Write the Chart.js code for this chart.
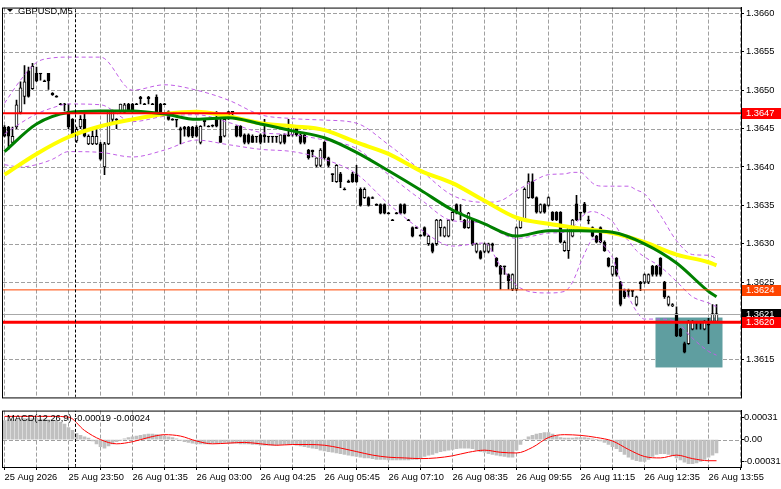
<!DOCTYPE html>
<html>
<head>
<meta charset="utf-8">
<script src="https://cdn.jsdelivr.net/npm/chart.js@4.4.1/dist/chart.umd.min.js"></script>
<style>
  html, body { margin: 0; padding: 0; background: #fff; }
  #wrap { position: relative; width: 781px; height: 489px; overflow: hidden; }
  #main { position: absolute; left: 0; top: 0; }
  #macd { position: absolute; left: 0; top: 405px; }
</style>
</head>
<body>
<div id="wrap">
  <canvas id="main" width="781" height="405"></canvas>
  <canvas id="macd" width="781" height="84"></canvas>
</div>
<script>
// ---- data ----
const symbol = 'GBPUSD,M5';
const macdTitle = 'MACD(12,26,9) -0.00019 -0.00024';
const timeLabels = ['25 Aug 2026', '25 Aug 23:50', '26 Aug 01:35', '26 Aug 03:00', '26 Aug 04:25', '26 Aug 05:45',
    '26 Aug 07:10', '26 Aug 08:35', '26 Aug 09:55', '26 Aug 11:15', '26 Aug 12:35', '26 Aug 13:55'];
const priceTicks = [1.3615, 1.3620, 1.3625, 1.3630, 1.3635, 1.3640, 1.3645, 1.3650, 1.3655, 1.3660];
const macdTicks = [-0.00031, 0, 0.00031];

const opens = [
    1.36452, 1.36452, 1.36432, 1.36452, 1.36471, 1.36492, 1.36525, 1.36502, 1.36522, 1.36522,
    1.36512, 1.36522, 1.36496, 1.36492, 1.36482, 1.36482, 1.36472, 1.36462, 1.36434, 1.36452,
    1.36462, 1.36430, 1.36430, 1.36430, 1.36430, 1.36400, 1.36430, 1.36462, 1.36462, 1.36472,
    1.36471, 1.36482, 1.36482, 1.36482, 1.36491, 1.36482, 1.36491, 1.36482, 1.36491, 1.36482,
    1.36482, 1.36472, 1.36462, 1.36462, 1.36450, 1.36452, 1.36452, 1.36452, 1.36452, 1.36432,
    1.36462, 1.36453, 1.36454, 1.36463, 1.36440, 1.36440, 1.36472, 1.36472, 1.36453, 1.36453,
    1.36442, 1.36442, 1.36440, 1.36440, 1.36442, 1.36442, 1.36440, 1.36440, 1.36440, 1.36432,
    1.36442, 1.36442, 1.36442, 1.36453, 1.36442, 1.36442, 1.36422, 1.36422, 1.36402, 1.36402,
    1.36432, 1.36412, 1.36391, 1.36381, 1.36391, 1.36371, 1.36381, 1.36391, 1.36391, 1.36371,
    1.36360, 1.36360, 1.36360, 1.36351, 1.36351, 1.36351, 1.36340, 1.36331, 1.36340, 1.36351,
    1.36351, 1.36331, 1.36321, 1.36321, 1.36311, 1.36321, 1.36300, 1.36300, 1.36300, 1.36321,
    1.36310, 1.36310, 1.36331, 1.36351, 1.36340, 1.36331, 1.36321, 1.36331, 1.36290, 1.36290,
    1.36290, 1.36290, 1.36300, 1.36281, 1.36271, 1.36271, 1.36260, 1.36241, 1.36241, 1.36321,
    1.36331, 1.36360, 1.36381, 1.36360, 1.36341, 1.36351, 1.36350, 1.36341, 1.36341, 1.36341,
    1.36291, 1.36291, 1.36310, 1.36352, 1.36341, 1.36352, 1.36331, 1.36321, 1.36310, 1.36321,
    1.36302, 1.36281, 1.36260, 1.36281, 1.36250, 1.36239, 1.36239, 1.36239, 1.36221, 1.36250,
    1.36250, 1.36250, 1.36271, 1.36271, 1.36281, 1.36250, 1.36221, 1.36219, 1.36209, 1.36189,
    1.36170, 1.36170, 1.36189, 1.36199, 1.36199, 1.36189, 1.36195, 1.36199, 1.36199
];
const highs = [
    1.36454, 1.36453, 1.36452, 1.36487, 1.36511, 1.36532, 1.36530, 1.36535, 1.36530, 1.36522,
    1.36513, 1.36522, 1.36497, 1.36493, 1.36483, 1.36483, 1.36482, 1.36463, 1.36452, 1.36467,
    1.36472, 1.36442, 1.36447, 1.36452, 1.36432, 1.36432, 1.36473, 1.36474, 1.36463, 1.36482,
    1.36483, 1.36483, 1.36483, 1.36483, 1.36492, 1.36483, 1.36492, 1.36483, 1.36494, 1.36483,
    1.36483, 1.36473, 1.36463, 1.36462, 1.36452, 1.36453, 1.36453, 1.36453, 1.36454, 1.36454,
    1.36463, 1.36454, 1.36455, 1.36472, 1.36463, 1.36463, 1.36472, 1.36472, 1.36454, 1.36454,
    1.36443, 1.36443, 1.36442, 1.36440, 1.36443, 1.36462, 1.36440, 1.36440, 1.36440, 1.36442,
    1.36443, 1.36462, 1.36454, 1.36454, 1.36443, 1.36443, 1.36423, 1.36422, 1.36412, 1.36424,
    1.36433, 1.36413, 1.36391, 1.36403, 1.36393, 1.36373, 1.36383, 1.36393, 1.36402, 1.36373,
    1.36373, 1.36361, 1.36361, 1.36352, 1.36352, 1.36352, 1.36341, 1.36332, 1.36341, 1.36352,
    1.36352, 1.36332, 1.36322, 1.36322, 1.36312, 1.36322, 1.36311, 1.36301, 1.36332, 1.36332,
    1.36322, 1.36332, 1.36342, 1.36352, 1.36351, 1.36332, 1.36341, 1.36332, 1.36301, 1.36291,
    1.36301, 1.36301, 1.36301, 1.36282, 1.36272, 1.36271, 1.36261, 1.36261, 1.36322, 1.36332,
    1.36373, 1.36391, 1.36391, 1.36361, 1.36352, 1.36352, 1.36361, 1.36342, 1.36342, 1.36342,
    1.36304, 1.36322, 1.36332, 1.36363, 1.36341, 1.36354, 1.36336, 1.36322, 1.36311, 1.36322,
    1.36304, 1.36282, 1.36271, 1.36282, 1.36251, 1.36241, 1.36241, 1.36239, 1.36232, 1.36251,
    1.36261, 1.36261, 1.36272, 1.36272, 1.36282, 1.36251, 1.36232, 1.36222, 1.36218, 1.36190,
    1.36172, 1.36200, 1.36200, 1.36199, 1.36199, 1.36200, 1.36203, 1.36221, 1.36221
];
const lows = [
    1.36439, 1.36423, 1.36430, 1.36450, 1.36469, 1.36482, 1.36491, 1.36501, 1.36511, 1.36513,
    1.36511, 1.36501, 1.36493, 1.36491, 1.36481, 1.36473, 1.36450, 1.36439, 1.36432, 1.36450,
    1.36439, 1.36429, 1.36429, 1.36429, 1.36409, 1.36390, 1.36429, 1.36459, 1.36450, 1.36471,
    1.36470, 1.36472, 1.36471, 1.36481, 1.36482, 1.36481, 1.36482, 1.36481, 1.36471, 1.36471,
    1.36481, 1.36461, 1.36461, 1.36452, 1.36430, 1.36440, 1.36439, 1.36438, 1.36439, 1.36430,
    1.36453, 1.36452, 1.36452, 1.36452, 1.36432, 1.36439, 1.36462, 1.36463, 1.36439, 1.36439,
    1.36430, 1.36430, 1.36432, 1.36432, 1.36430, 1.36432, 1.36432, 1.36432, 1.36432, 1.36430,
    1.36430, 1.36440, 1.36440, 1.36440, 1.36430, 1.36430, 1.36410, 1.36413, 1.36400, 1.36400,
    1.36410, 1.36400, 1.36381, 1.36380, 1.36373, 1.36370, 1.36380, 1.36380, 1.36380, 1.36349,
    1.36359, 1.36349, 1.36359, 1.36350, 1.36339, 1.36339, 1.36339, 1.36330, 1.36339, 1.36339,
    1.36339, 1.36330, 1.36309, 1.36320, 1.36310, 1.36310, 1.36298, 1.36288, 1.36298, 1.36310,
    1.36309, 1.36309, 1.36330, 1.36339, 1.36331, 1.36320, 1.36320, 1.36298, 1.36288, 1.36280,
    1.36288, 1.36288, 1.36290, 1.36270, 1.36241, 1.36260, 1.36241, 1.36239, 1.36239, 1.36320,
    1.36330, 1.36359, 1.36359, 1.36340, 1.36340, 1.36340, 1.36349, 1.36330, 1.36330, 1.36301,
    1.36290, 1.36281, 1.36309, 1.36330, 1.36331, 1.36340, 1.36326, 1.36309, 1.36301, 1.36301,
    1.36290, 1.36270, 1.36258, 1.36258, 1.36219, 1.36229, 1.36231, 1.36231, 1.36219, 1.36239,
    1.36248, 1.36248, 1.36258, 1.36258, 1.36258, 1.36229, 1.36219, 1.36218, 1.36179, 1.36179,
    1.36158, 1.36169, 1.36188, 1.36189, 1.36189, 1.36188, 1.36170, 1.36198, 1.36198
];
const closes = [
    1.36440, 1.36440, 1.36440, 1.36481, 1.36503, 1.36511, 1.36492, 1.36531, 1.36512, 1.36521,
    1.36511, 1.36512, 1.36494, 1.36491, 1.36481, 1.36481, 1.36452, 1.36440, 1.36449, 1.36462,
    1.36440, 1.36440, 1.36440, 1.36440, 1.36410, 1.36430, 1.36472, 1.36472, 1.36461, 1.36482,
    1.36481, 1.36472, 1.36472, 1.36481, 1.36489, 1.36481, 1.36489, 1.36481, 1.36472, 1.36472,
    1.36481, 1.36462, 1.36461, 1.36461, 1.36448, 1.36450, 1.36440, 1.36440, 1.36440, 1.36453,
    1.36459, 1.36452, 1.36453, 1.36453, 1.36432, 1.36462, 1.36463, 1.36471, 1.36440, 1.36440,
    1.36432, 1.36432, 1.36432, 1.36439, 1.36432, 1.36439, 1.36439, 1.36439, 1.36439, 1.36442,
    1.36432, 1.36440, 1.36453, 1.36442, 1.36432, 1.36432, 1.36412, 1.36420, 1.36412, 1.36422,
    1.36412, 1.36402, 1.36390, 1.36402, 1.36381, 1.36370, 1.36380, 1.36381, 1.36381, 1.36350,
    1.36371, 1.36350, 1.36359, 1.36350, 1.36340, 1.36340, 1.36339, 1.36330, 1.36339, 1.36340,
    1.36340, 1.36330, 1.36310, 1.36320, 1.36310, 1.36311, 1.36310, 1.36290, 1.36331, 1.36331,
    1.36321, 1.36331, 1.36341, 1.36340, 1.36341, 1.36321, 1.36340, 1.36300, 1.36300, 1.36281,
    1.36300, 1.36300, 1.36298, 1.36271, 1.36260, 1.36270, 1.36252, 1.36260, 1.36321, 1.36331,
    1.36371, 1.36381, 1.36360, 1.36341, 1.36351, 1.36341, 1.36360, 1.36331, 1.36331, 1.36302,
    1.36302, 1.36321, 1.36331, 1.36331, 1.36340, 1.36341, 1.36330, 1.36310, 1.36302, 1.36302,
    1.36291, 1.36271, 1.36271, 1.36260, 1.36221, 1.36231, 1.36238, 1.36238, 1.36231, 1.36248,
    1.36260, 1.36260, 1.36260, 1.36260, 1.36260, 1.36231, 1.36231, 1.36221, 1.36180, 1.36180,
    1.36159, 1.36199, 1.36199, 1.36198, 1.36198, 1.36199, 1.36194, 1.36209, 1.36209
];

// moving averages, sampled every 8 bars
const maIdx = [0, 8, 16, 24, 32, 40, 48, 56, 64, 72, 80, 88, 96, 104, 112, 120, 128, 136, 144, 152, 160, 168, 176, 178];
const maGreen = [1.36420, 1.36456, 1.36471, 1.36473, 1.36473, 1.36469, 1.36462, 1.36464, 1.36456, 1.36447, 1.36438, 1.36419,
    1.36395, 1.36370, 1.36344, 1.36326, 1.36310, 1.36317, 1.36317, 1.36315, 1.36300, 1.36275, 1.36238, 1.36231];
const maYellow = [1.36390, 1.36417, 1.36439, 1.36453, 1.36462, 1.36469, 1.36472, 1.36466, 1.36457, 1.36453, 1.36448, 1.36432,
    1.36417, 1.36395, 1.36379, 1.36356, 1.36334, 1.36326, 1.36320, 1.36314, 1.36302, 1.36286, 1.36276, 1.36272];

// bollinger bands
const bandIdx = [0, 4, 8, 12, 16, 24, 32, 40, 48, 56, 64, 72, 80, 88, 96, 104, 112, 120, 124, 128, 132, 136, 140, 142,
    144, 146, 147, 148, 150, 152, 154, 156, 158, 160, 164, 168, 172, 176, 178];
const bandUpper = [1.36483, 1.36513, 1.36536, 1.36542, 1.36543, 1.36543, 1.36500, 1.36507, 1.36500, 1.36487, 1.36468, 1.36463,
    1.36461, 1.36457, 1.36429, 1.36396, 1.36363, 1.36354, 1.36356, 1.36369, 1.36381, 1.36390, 1.36391, 1.36393,
    1.36393, 1.36384, 1.36379, 1.36376, 1.36375, 1.36375, 1.36375, 1.36375, 1.36370, 1.36365, 1.36337, 1.36304,
    1.36286, 1.36285, 1.36281];
const bandMiddle = [1.36443, 1.36457, 1.36469, 1.36477, 1.36482, 1.36481, 1.36459, 1.36466, 1.36468, 1.36458, 1.36445, 1.36442,
    1.36435, 1.36424, 1.36390, 1.36358, 1.36330, 1.36327, 1.36314, 1.36307, 1.36310, 1.36314, 1.36315, 1.36321,
    1.36334, 1.36341, 1.36342, 1.36341, 1.36336, 1.36329, 1.36314, 1.36304, 1.36291, 1.36283, 1.36270, 1.36251,
    1.36231, 1.36223, 1.36218];
const bandLower = [1.36403, 1.36400, 1.36403, 1.36410, 1.36420, 1.36419, 1.36413, 1.36422, 1.36435, 1.36429, 1.36423, 1.36420,
    1.36410, 1.36391, 1.36352, 1.36319, 1.36297, 1.36301, 1.36271, 1.36246, 1.36237, 1.36236, 1.36238, 1.36250,
    1.36275, 1.36298, 1.36306, 1.36306, 1.36297, 1.36282, 1.36252, 1.36231, 1.36212, 1.36202, 1.36202, 1.36198,
    1.36177, 1.36160, 1.36155];

// horizontal levels and marked zone
const levelValues = [1.3647, 1.3624, 1.36198];
const lastPrice = closes[closes.length - 1];
const zone = { from: 162.75, to: 179.5, top: 1.36204, bottom: 1.36139 };
const separatorAt = 17.75;

// MACD
const macdHist = [
    0.00027, 0.00028, 0.00028, 0.00029, 0.00029, 0.00030, 0.00030, 0.00030, 0.00030, 0.00029,
    0.00029, 0.00028, 0.00028, 0.00027, 0.00025, 0.00022, 0.00017, 0.00013, 0.00009, 0.00006,
    0.00004, 0.00002, -0.00002, -0.00006, -0.00010, -0.00012, -0.00009, -0.00006, -0.00003, -0.00001,
    0.00001, 0.00003, 0.00004, 0.00005, 0.00006, 0.00007, 0.00008, 0.00008, 0.00007, 0.00006,
    0.00005, 0.00004, 0.00003, 0.00001, -0.00001, -0.00003, -0.00004, -0.00005, -0.00006, -0.00006,
    -0.00006, -0.00006, -0.00005, -0.00005, -0.00005, -0.00004, -0.00005, -0.00005, -0.00005, -0.00006,
    -0.00006, -0.00006, -0.00007, -0.00007, -0.00008, -0.00008, -0.00008, -0.00008, -0.00008, -0.00007,
    -0.00007, -0.00007, -0.00007, -0.00008, -0.00009, -0.00010, -0.00011, -0.00012, -0.00013, -0.00015,
    -0.00016, -0.00017, -0.00018, -0.00019, -0.00020, -0.00021, -0.00022, -0.00023, -0.00024, -0.00025,
    -0.00026, -0.00026, -0.00027, -0.00028, -0.00028, -0.00028, -0.00029, -0.00029, -0.00029, -0.00029,
    -0.00029, -0.00029, -0.00028, -0.00028, -0.00026, -0.00024, -0.00022, -0.00021, -0.00019, -0.00017,
    -0.00016, -0.00015, -0.00014, -0.00013, -0.00012, -0.00012, -0.00012, -0.00013, -0.00015, -0.00017,
    -0.00018, -0.00020, -0.00021, -0.00022, -0.00023, -0.00024, -0.00025, -0.00025, -0.00015, -0.00007,
    0.00000, 0.00004, 0.00006, 0.00008, 0.00009, 0.00010, 0.00010, 0.00008, 0.00005, 0.00003,
    0.00002, 0.00002, 0.00002, 0.00003, 0.00003, 0.00003, 0.00002, 0.00001, 0.00000, -0.00002,
    -0.00004, -0.00007, -0.00010, -0.00013, -0.00017, -0.00021, -0.00025, -0.00028, -0.00030, -0.00031,
    -0.00031, -0.00028, -0.00024, -0.00021, -0.00020, -0.00020, -0.00021, -0.00023, -0.00026, -0.00029,
    -0.00032, -0.00034, -0.00034, -0.00033, -0.00031, -0.00028, -0.00025, -0.00022, -0.00019
];
const signalIdx = [0, 4, 8, 12, 16, 20, 24, 28, 32, 36, 40, 44, 48, 52, 56, 60, 64, 68, 72, 76, 80, 84, 88, 92,
    96, 100, 104, 108, 112, 116, 120, 124, 128, 132, 136, 140, 144, 148, 152, 156, 160, 164, 168, 172, 176, 178];
const macdSignal = [0.00033, 0.00033, 0.00033, 0.00033, 0.00032, 0.00013, 0.00000, -0.00006, -0.00003, 0.00003, 0.00007,
    0.00005, -0.00002, -0.00006, -0.00005, -0.00004, -0.00006, -0.00008, -0.00007, -0.00007, -0.00008, -0.00012,
    -0.00017, -0.00022, -0.00025, -0.00026, -0.00027, -0.00026, -0.00023, -0.00018, -0.00015, -0.00018, -0.00019,
    -0.00011, 0.00003, 0.00007, 0.00006, 0.00003, -0.00002, -0.00014, -0.00024, -0.00026, -0.00022, -0.00027,
    -0.00030, -0.00030];

// ---- styling ----
const FONT = { family: "'Liberation Sans', Arial, sans-serif", size: 9.3 };
const FONT_CSS = "9.3px 'Liberation Sans', Arial, sans-serif";
const GRID = '#a0a0a0';
const BAND = '#c05ee6';
const X_MIN = -0.375, X_MAX = 184.125;
const Y_MIN = 1.36100, Y_MAX = 1.366075;
const levelColors = ['#ff0000', '#ff4500', '#ff0000'];
const levelWidths = [2, 1, 3];

const pts = (idx, vals) => idx.map((x, k) => ({ x, y: vals[k] }));
const flat = v => [{ x: X_MIN, y: v }, { x: X_MAX, y: v }];

function timeAxis(showLabels) {
    return {
        type: 'linear', min: X_MIN, max: X_MAX, offset: false,
        afterBuildTicks: s => {
            s.ticks = [];
            for (let v = 0; v <= 184; v += 8) s.ticks.push({ value: v });
        },
        afterFit: s => { s.height = showLabels ? 22 : 0; },
        grid: { drawOnChartArea: false, drawTicks: showLabels, tickLength: 3, tickColor: '#000', offset: false },
        border: { display: false },
        ticks: {
            display: showLabels, autoSkip: false, maxRotation: 0, minRotation: 0,
            align: 'start', padding: 2, color: '#000', font: FONT,
            callback: v => (v % 16 === 0 && timeLabels[v / 16]) ? timeLabels[v / 16] : ''
        }
    };
}

// dashed grid drawn at the scales' own tick positions
function dashedGrid(onlyZeroY) {
    return {
        id: 'dashedGrid',
        beforeDatasetsDraw(chart) {
            const { ctx, chartArea: a, scales: { x, y } } = chart;
            ctx.save();
            ctx.strokeStyle = GRID;
            ctx.lineWidth = 1;
            ctx.setLineDash([4, 2]);
            ctx.beginPath();
            x.ticks.forEach(t => {
                const px = Math.floor(x.getPixelForValue(t.value)) + 0.5;
                if (px <= a.left || px >= a.right) return;
                ctx.moveTo(px, a.top); ctx.lineTo(px, a.bottom);
            });
            y.ticks.forEach(t => {
                if (onlyZeroY && t.value !== 0) return;
                const py = Math.round(y.getPixelForValue(t.value)) + 0.5;
                ctx.moveTo(a.left, py); ctx.lineTo(a.right, py);
            });
            ctx.stroke();
            ctx.restore();
        }
    };
}

function frame(ctx, a) {
    ctx.save();
    ctx.strokeStyle = '#000';
    ctx.lineWidth = 1;
    ctx.setLineDash([]);
    ctx.strokeRect(a.left - 0.5, a.top + 0.5, a.right - a.left + 1, a.bottom - a.top);
    ctx.restore();
}

const zonePlugin = {
    id: 'zone',
    beforeDatasetsDraw(chart) {
        const { ctx, scales: { x, y } } = chart;
        const x0 = x.getPixelForValue(zone.from), x1 = x.getPixelForValue(zone.to);
        const y0 = y.getPixelForValue(zone.top), y1 = y.getPixelForValue(zone.bottom);
        ctx.save();
        ctx.fillStyle = '#5f9ea0';
        ctx.fillRect(x0, y0, x1 - x0, y1 - y0);
        ctx.restore();
    }
};

const mainDecor = {
    id: 'mainDecor',
    afterDatasetsDraw(chart) {
        // bid line, crisp 1px
        const { ctx, chartArea: a, scales: { y } } = chart;
        const py = Math.round(y.getPixelForValue(lastPrice)) + 0.5;
        ctx.save();
        ctx.strokeStyle = '#a8a8a8';
        ctx.lineWidth = 1;
        ctx.beginPath();
        ctx.moveTo(a.left, py); ctx.lineTo(a.right, py);
        ctx.stroke();
        ctx.restore();
    },
    afterDraw(chart) {
        const { ctx, chartArea, scales: { y } } = chart;
        frame(ctx, chartArea);
        ctx.save();
        ctx.font = FONT_CSS;
        ctx.textBaseline = 'middle';
        // price tags on the right axis
        const tags = [
            { v: levelValues[0], bg: levelColors[0] },
            { v: levelValues[1], bg: levelColors[1] },
            { v: lastPrice, bg: '#000' },
            { v: levelValues[2], bg: levelColors[2] }
        ];
        tags.forEach(t => {
            const py = Math.round(y.getPixelForValue(t.v));
            ctx.fillStyle = t.bg;
            ctx.fillRect(chartArea.right + 1, py - 5, 40, 11);
            ctx.fillStyle = '#fff';
            ctx.fillText(t.v.toFixed(4), chartArea.right + 5, py + 0.5);
        });
        // symbol title
        ctx.fillStyle = '#000';
        ctx.beginPath();
        ctx.moveTo(7, 9); ctx.lineTo(13, 9); ctx.lineTo(10, 12); ctx.closePath();
        ctx.fill();
        ctx.fillText(symbol, 18, 11);
        ctx.restore();
    }
};

const macdDecor = {
    id: 'macdDecor',
    afterDraw(chart) {
        const { ctx, chartArea } = chart;
        frame(ctx, chartArea);
        ctx.save();
        ctx.font = FONT_CSS;
        ctx.textBaseline = 'middle';
        ctx.fillStyle = '#000';
        ctx.fillText(macdTitle, 7, chartArea.top + 8);
        ctx.restore();
    }
};

const lineBase = { type: 'line', pointRadius: 0, fill: false, cubicInterpolationMode: 'monotone' };

new Chart(document.getElementById('main'), {
    type: 'bar',
    data: {
        datasets: [
            {
                type: 'bar', order: 7, grouped: false, barThickness: 1,
                data: opens.map((o, i) => ({ x: i, y: [lows[i], highs[i]] })),
                backgroundColor: '#000'
            },
            {
                type: 'bar', order: 6, grouped: false, barThickness: 3, minBarLength: 1,
                data: opens.map((o, i) => ({ x: i, y: [o, closes[i]] })),
                backgroundColor: opens.map((o, i) => closes[i] > o ? '#fff' : '#000'),
                borderColor: '#000', borderWidth: 1, borderSkipped: false
            },
            { ...lineBase, order: 5, data: pts(bandIdx, bandUpper), borderColor: BAND, borderWidth: 1, borderDash: [4, 3] },
            { ...lineBase, order: 5, data: pts(bandIdx, bandMiddle), borderColor: BAND, borderWidth: 1, borderDash: [4, 3] },
            { ...lineBase, order: 5, data: pts(bandIdx, bandLower), borderColor: BAND, borderWidth: 1, borderDash: [4, 3] },
            { ...lineBase, order: 4, data: pts(maIdx, maYellow), borderColor: '#ffff00', borderWidth: 4 },
            { ...lineBase, order: 3, data: pts(maIdx, maGreen), borderColor: '#008000', borderWidth: 3 },
            ...levelValues.map((v, k) => ({ ...lineBase, order: 1, data: flat(v), borderColor: levelColors[k], borderWidth: levelWidths[k] })),
            { ...lineBase, order: 0, data: [{ x: separatorAt, y: Y_MIN }, { x: separatorAt, y: Y_MAX }], borderColor: '#000', borderWidth: 1, borderDash: [3, 2] }
        ]
    },
    options: {
        responsive: false, animation: false,
        layout: { padding: { left: 3, top: 0, right: 0, bottom: 0 } },
        plugins: { legend: { display: false }, tooltip: { enabled: false } },
        scales: {
            x: timeAxis(false),
            y: {
                type: 'linear', position: 'right', min: Y_MIN, max: Y_MAX,
                afterBuildTicks: s => { s.ticks = priceTicks.map(v => ({ value: v })); },
                afterFit: s => { s.width = 40; },
                grid: { drawOnChartArea: false, tickColor: '#000', tickLength: 3 },
                border: { display: true, color: '#000' },
                ticks: { color: '#000', font: FONT, padding: 2, callback: v => v.toFixed(4) }
            }
        }
    },
    plugins: [dashedGrid(false), zonePlugin, mainDecor]
});

new Chart(document.getElementById('macd'), {
    type: 'bar',
    data: {
        datasets: [
            {
                type: 'bar', order: 2, grouped: false, barThickness: 3,
                data: macdHist.map((v, i) => ({ x: i, y: v })),
                backgroundColor: '#c0c0c0'
            },
            { ...lineBase, order: 1, data: pts(signalIdx, macdSignal), borderColor: '#ff0000', borderWidth: 1 },
            { ...lineBase, order: 0, data: [{ x: separatorAt, y: -0.000389 }, { x: separatorAt, y: 0.000412 }], borderColor: '#000', borderWidth: 1, borderDash: [3, 2] }
        ]
    },
    options: {
        responsive: false, animation: false,
        layout: { padding: { left: 3, top: 2, right: 0, bottom: 0 } },
        plugins: { legend: { display: false }, tooltip: { enabled: false } },
        scales: {
            x: timeAxis(true),
            y: {
                type: 'linear', position: 'right', min: -0.000389, max: 0.000412,
                afterBuildTicks: s => { s.ticks = macdTicks.map(v => ({ value: v })); },
                afterFit: s => { s.width = 40; },
                grid: { drawOnChartArea: false, tickColor: '#000', tickLength: 3 },
                border: { display: true, color: '#000' },
                ticks: { color: '#000', font: FONT, padding: 0, callback: v => v === 0 ? '0.00' : v.toFixed(5) }
            }
        }
    },
    plugins: [dashedGrid(true), macdDecor]
});
</script>
</body>
</html>
